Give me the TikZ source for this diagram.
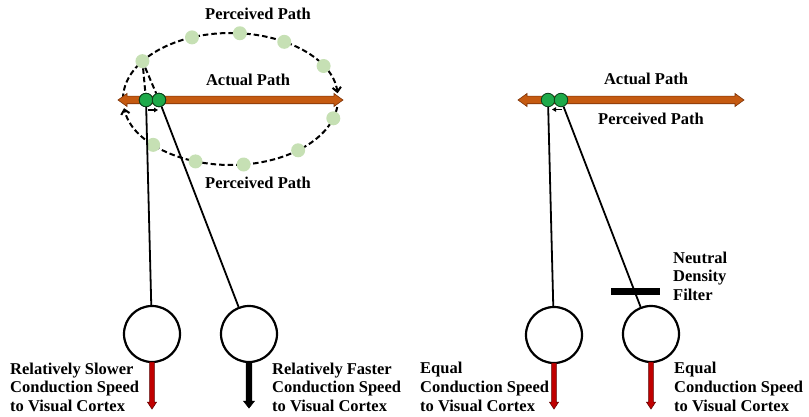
\documentclass[tikz,border=0pt]{standalone}
\usepackage{fontspec}
\setmainfont{Liberation Serif}
\usetikzlibrary{arrows.meta,calc}

\definecolor{pathorange}{HTML}{C55A11}
\definecolor{pathedge}{HTML}{7A3208}
\definecolor{spotgreen}{HTML}{1FAA4A}
\definecolor{spotedge}{HTML}{0B3F1A}
\definecolor{ghostgreen}{HTML}{C6E0B4}
\definecolor{axonred}{HTML}{C00000}
\definecolor{axonedge}{HTML}{5A0000}

% horizontal double-headed block arrow: x1, x2, y
\newcommand{\patharrow}[3]{%
  \filldraw[fill=pathorange, draw=pathedge, line width=0.6pt, line join=miter]
    (#1,#3) -- (#1+9,#3-6.5) -- (#1+9,#3-3.8) -- (#2-9,#3-3.8) -- (#2-9,#3-6.5)
    -- (#2,#3) -- (#2-9,#3+6.5) -- (#2-9,#3+3.8) -- (#1+9,#3+3.8) -- (#1+9,#3+6.5) -- cycle;}

% downward output arrow from a cell: cell, tip, fill, edge, half shaft, half head
\newcommand{\axonarrow}[6]{%
  \filldraw[fill=#3, draw=#4, line width=0.5pt, line join=miter]
    ($(#1.south)+(-#5,-1)$) -- ($(#2)+(-#5,-7)$) -- ($(#2)+(-#6,-7)$) -- (#2)
    -- ($(#2)+(#6,-7)$) -- ($(#2)+(#5,-7)$) -- ($(#1.south)+(#5,-1)$) -- cycle;}

\tikzset{
  spot/.style={circle, fill=spotgreen, draw=spotedge, line width=0.8pt, minimum size=13.5pt, inner sep=0},
  ghost/.style={circle, fill=ghostgreen, minimum size=14pt, inner sep=0},
  cell/.style={circle, draw=black, line width=2.2pt, minimum size=56pt, inner sep=0},
  fiber/.style={draw=black, line width=1.8pt},
  percept/.style={draw=black, line width=2pt, dash pattern=on 5.5pt off 3pt},
  turn/.style={-{Straight Barb[length=4.5pt,width=8.5pt]}},
  nudge/.style={line width=1.3pt, -{Triangle[length=4pt,width=4.5pt]}},
  lbl/.style={font=\bfseries\fontsize{16.5}{18.8}\selectfont, inner sep=0, align=left, anchor=north west},
  ttl/.style={font=\bfseries\fontsize{16.5}{18.8}\selectfont, inner sep=0, anchor=base},
  filterbar/.style={fill=black, minimum width=49pt, minimum height=7pt, inner sep=0}
}

\begin{document}
\begin{tikzpicture}[x=1pt, y=-1pt]
\useasboundingbox (0,0) rectangle (809,417);

% ---------------- left panel: perceived elliptical path ----------------
\coordinate (E) at (230.5,99);
\draw[percept, turn] ($(E)+(180:107.5 and 66)$) arc[start angle=180, end angle=355, x radius=107.5, y radius=66];
\draw[percept, turn] ($(E)+(7:107.5 and 66)$) arc[start angle=7, end angle=172, x radius=107.5, y radius=66];

\patharrow{118}{343}{100}

\node[ghost] (p1) at ($(E)+(215:107.5 and 66)$) {};
\node[ghost] (p2) at ($(E)+(249:107.5 and 66)$) {};
\node[ghost] (p3) at ($(E)+(275:107.5 and 66)$) {};
\node[ghost] (p4) at ($(E)+(300:107.5 and 66)$) {};
\node[ghost] (p5) at ($(E)+(330:107.5 and 66)$) {};
\node[ghost] (p6) at ($(E)+(17:107.5 and 66)$) {};
\node[ghost] (p7) at ($(E)+(51:107.5 and 66)$) {};
\node[ghost] (p8) at ($(E)+(83:107.5 and 66)$) {};
\node[ghost] (p9) at ($(E)+(109:107.5 and 66)$) {};
\node[ghost] (p10) at ($(E)+(136:107.5 and 66)$) {};

\node[spot] (g1) at (146,100) {};
\node[spot] (g2) at (159,100) {};
\draw[percept] (p1) -- (g1);
\draw[percept] (p1) -- (g2);
\node[spot] at (g1) {};
\node[spot] at (g2) {};
\draw[nudge] ($(g1)+(2,10)$) -- ($(g2)+(-1,10)$);

\node[cell] (c1) at (152,334) {};
\node[cell] (c2) at (249,334) {};
\draw[fiber] (g1) -- (c1);
\draw[fiber] (g2) -- (c2);

\path (c1.south) ++(0,46) coordinate (t1);
\path (c2.south) ++(0,45) coordinate (t2);
\axonarrow{c1}{t1}{axonred}{axonedge}{2.3}{4.6}
\axonarrow{c2}{t2}{black}{black}{2.8}{5.5}

\node[ttl] at (258,20) {Perceived Path};
\node[ttl] at (248,86) {Actual Path};
\node[ttl] at (258,189) {Perceived Path};

\node[lbl] at (10,362.5) {Relatively Slower\\Conduction Speed\\to Visual Cortex};
\node[lbl] at (272,362.5) {Relatively Faster\\Conduction Speed\\to Visual Cortex};

% ---------------- right panel: filtered eye, straight path ----------------
\patharrow{518}{744}{100}
\node[spot] (g3) at (548,100) {};
\node[spot] (g4) at (561,100) {};
\draw[nudge] ($(g4)+(1,9.5)$) -- ($(g3)+(4,9.5)$);

\node[cell] (c3) at (554,335) {};
\node[cell] (c4) at (651,334) {};
\draw[fiber] (g3) -- (c3);
\draw[fiber] (g4) -- (c4);
\node[filterbar] (nd) at (635.5,291.5) {};

\path (c3.south) ++(0,45) coordinate (t3);
\path (c4.south) ++(0,46) coordinate (t4);
\axonarrow{c3}{t3}{axonred}{axonedge}{2.3}{4.6}
\axonarrow{c4}{t4}{axonred}{axonedge}{2.3}{4.6}

\node[ttl] at (646,85) {Actual Path};
\node[ttl] at (651,125) {Perceived Path};
\node[lbl] at (673,251.5) {Neutral\\Density\\Filter};

\node[lbl] at (420,362) {Equal\\Conduction Speed\\to Visual Cortex};
\node[lbl] at (674,362) {Equal\\Conduction Speed\\to Visual Cortex};
\end{tikzpicture}
\end{document}
